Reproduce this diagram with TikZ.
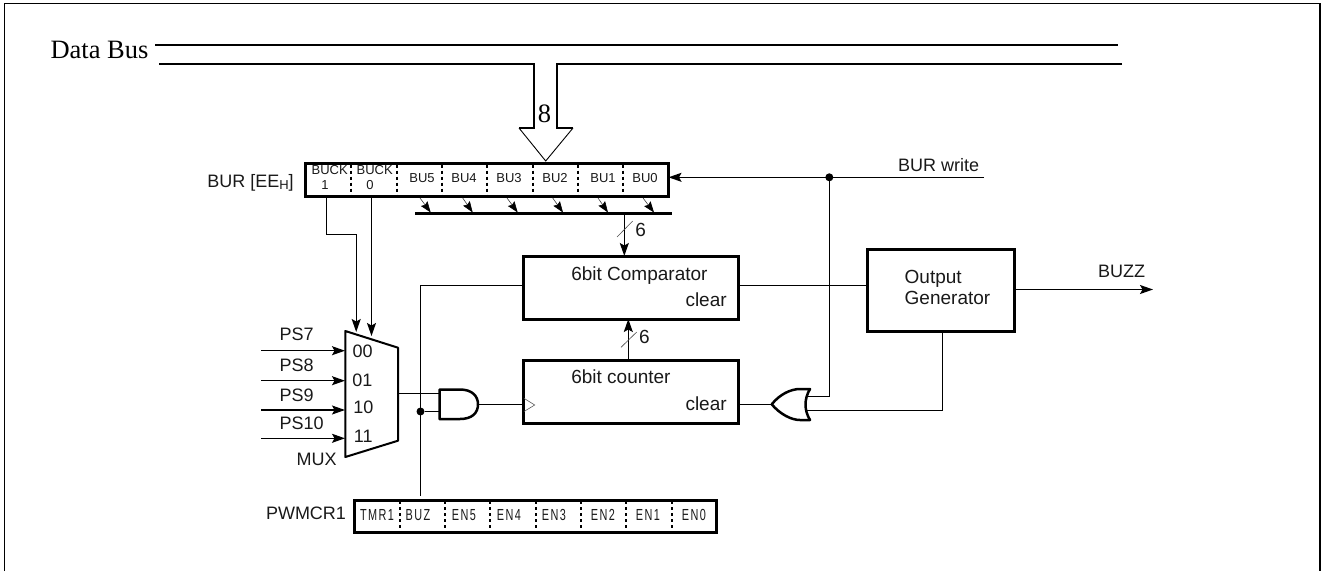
\documentclass[tikz,border=0pt]{standalone}
\usepackage{fontspec}
\setmainfont{Liberation Sans}
\newfontfamily\serifbus{Liberation Serif}
\newfontfamily\narrowf[FakeStretch=0.68,LetterSpace=9]{Liberation Sans}
\usetikzlibrary{arrows.meta,calc}
\tikzset{
  lbl/.style={inner sep=0pt,outer sep=0pt,text depth=0pt,text height=13pt,text=black!90,font=\fontsize{18}{20}\selectfont},
  big/.style={lbl,text height=13.6pt,font=\fontsize{19}{21}\selectfont},
  cell/.style={lbl,text height=9.4pt,font=\fontsize{13}{14}\selectfont},
  ncell/.style={lbl,text height=11.5pt,font=\narrowf\fontsize{16}{18}\selectfont},
  busl/.style={lbl,text height=17.5pt,text=black,font=\serifbus\fontsize{26.5}{28}\selectfont},
  box/.style={draw,line width=3pt,inner sep=0pt,outer sep=0pt,fill=none},
  wire/.style={line width=1.3pt},
  thick bus/.style={line width=2.2pt},
  arr/.style={line width=1.3pt,-{Stealth[length=13pt,width=9pt,inset=2.5pt]}},
  tap/.style={line width=0.6pt,black!75,-{Stealth[length=11pt,width=8pt,inset=1.5pt,black]}},
  slash/.style={line width=0.6pt,black!70},
  sep/.style={line width=2pt,dash pattern=on 3pt off 3pt},
  gate/.style={draw,line width=2.5pt,line join=round},
  dot/.style={circle,fill=black,inner sep=0pt,minimum size=8pt,outer sep=0pt},
}
\begin{document}
\begin{tikzpicture}[x=1pt,y=-1pt]
\useasboundingbox (0,0) rectangle (1321,571);
% frame
\coordinate (fbl) at (4.5,571);
\coordinate (ftl) at (4.5,3.5);
\coordinate (ftr) at (1320,3.5);
\coordinate (fbr) at (1320,571);
\draw[line width=1.4pt] (fbl) -- (ftl) -- (ftr) -- (fbr);

% data bus
\node[busl] (dbus) at (99.5,50) {Data Bus};
\coordinate (b1l) at (155,45);  \coordinate (b1r) at (1118,45);
\coordinate (b2l) at (159,64);  \coordinate (b2a) at (534,64);
\coordinate (b2b) at (557,64);  \coordinate (b2r) at (1122,64);
\coordinate (ah1) at (519,128); \coordinate (ah2) at (534,128);
\coordinate (ah3) at (557,128); \coordinate (ah4) at (573,128);
\coordinate (atip) at (545.7,161);
\draw[thick bus] (b1l) -- (b1r);
\draw[thick bus] (b2l) -- (b2a) -- (ah2) -- (ah1);
\draw[thick bus] (b2r) -- (b2b) -- (ah3) -- (ah4);
\draw[line width=0.9pt] (ah1) -- (atip) -- (ah4);
\node[busl] (eight) at (544.5,114) {8};

% BUR register
\node[box,minimum width=363pt,minimum height=33.5pt] (bur) at (487,179.75) {};
\node[lbl] (burl) at (250.5,181) {BUR [EE\raisebox{-2pt}{\fontsize{13}{14}\selectfont H}]};
\foreach \i/\xx in {a/351,b/397,c/442,d/487,e/532.7,f/577.7,g/623}{
  \coordinate (bs\i) at (\xx,164.5);
  \draw[sep] (bs\i) -- (\xx,196);
}
\node[cell] (c1a) at (329.7,170) {BUCK};
\node[cell] (c1b) at (325,185) {1};
\node[cell] (c0a) at (374.7,170) {BUCK};
\node[cell] (c0b) at (370,185) {0};
\node[cell] (bu5) at (422,177.7) {BU5};
\node[cell] (bu4) at (464,177.7) {BU4};
\node[cell] (bu3) at (509,177.7) {BU3};
\node[cell] (bu2) at (555,177.7) {BU2};
\node[cell] (bu1) at (603,177.7) {BU1};
\node[cell] (bu0) at (645,177.7) {BU0};

% internal bus and taps
\coordinate (ibl) at (415,213.3);
\coordinate (ibr) at (672,213.3);
\draw[line width=3pt] (ibl) -- (ibr);
\foreach \n/\sx/\tx in {5/420/430.7,4/462.7/472.7,3/507/517.7,2/552.7/563,1/598/608,0/643/654}{
  \coordinate (ts\n) at (\sx,198);
  \coordinate (tt\n) at (\tx,212.5);
  \draw[tap] (ts\n) -- (tt\n);
}

% comparator, counter, output generator
\node[box,minimum width=215.5pt,minimum height=63pt] (cmp) at (630.75,287.5) {};
\node[box,minimum width=215.5pt,minimum height=63pt] (cnt) at (630.75,391.5) {};
\node[box,minimum width=147.5pt,minimum height=82pt] (ogen) at (940.75,290) {};
\node[big,anchor=west] (cmpt) at (571.3,274) {6bit Comparator};
\node[big,anchor=east] (cmpc) at (726.7,300) {clear};
\node[big,anchor=west] (cntt) at (571.3,376.7) {6bit counter};
\node[big,anchor=east] (cntc) at (726.7,404) {clear};
\node[big,anchor=west] (og1) at (904.7,276.7) {Output};
\node[big,anchor=west] (og2) at (904.7,297.7) {Generator};

% clock triangle
\coordinate (ck1) at (524,398.3);
\coordinate (ck2) at (534.7,405);
\coordinate (ck3) at (524,411.5);
\draw[line width=0.6pt,black!65] (ck1) -- (ck2) -- (ck3);

% 6-bit links
\coordinate (cmpin) at (624.3,213.3);
\draw[arr] (cmpin) -- (cmpin |- cmp.north);
\coordinate (s1a) at (617,237); \coordinate (s1b) at (632.7,221);
\draw[slash] (s1a) -- (s1b);
\node[big] (six1) at (640.7,230) {6};
\coordinate (cntout) at (628.3,359);
\draw[arr] (cntout) -- (cntout |- cmp.south);
\coordinate (s2a) at (621,347.3); \coordinate (s2b) at (636.7,332);
\draw[slash] (s2a) -- (s2b);
\node[big] (six2) at (644.3,336.7) {6};

% MUX
\coordinate (mtl) at (345.3,331);
\coordinate (mtr) at (398,347.7);
\coordinate (mbr) at (398,440.7);
\coordinate (mbl) at (345.3,457);
\draw[gate,line width=2pt] (mtl) -- (mtr) -- (mbr) -- (mbl) -- cycle;
\node[lbl] (m00) at (362.7,351) {00};
\node[lbl] (m01) at (362.3,379.5) {01};
\node[lbl] (m10) at (363.3,407.3) {10};
\node[lbl] (m11) at (363.3,436) {11};
\node[lbl] (muxl) at (316.7,459.3) {MUX};
\node[lbl] (ps7) at (296.7,334.3) {PS7};
\node[lbl] (ps8) at (296.7,365.3) {PS8};
\node[lbl] (ps9) at (296.7,395.3) {PS9};
\node[lbl] (ps10) at (301.7,423.3) {PS10};
\foreach \n/\yy in {a/350.7,b/380.7,c/410,d/438.3}{
  \coordinate (pi\n) at (261,\yy);
  \coordinate (pt\n) at (345,\yy);
  \draw[arr] (pi\n) -- (pt\n);
}
% selects
\coordinate (sel1) at (326.3,234.3);
\coordinate (sel1b) at (356.2,234.3);
\coordinate (sel1t) at (356.2,332);
\draw[arr] (sel1 |- bur.south) -- (sel1) -- (sel1b) -- (sel1t);
\coordinate (sel0t) at (371.5,336);
\draw[arr] (sel0t |- bur.south) -- (sel0t);

% AND gate
\coordinate (and1) at (439.5,389.5);
\coordinate (and2) at (460,389.5);
\coordinate (and3) at (478,404.3);
\coordinate (and4) at (460,419);
\coordinate (and5) at (439.5,419);
\draw[gate] (and1) -- (and2) .. controls (472,389.5) and (478,396) .. (and3)
  .. controls (478,413) and (472,419) .. (and4) -- (and5) -- cycle;
\coordinate (ai1) at (439,393.3);
\coordinate (ai2) at (439,411.5);
\coordinate (mout) at (398,393.3);
\draw[wire] (mout) -- (ai1);
\draw[wire] (and3) -- (cnt.west |- and3);

% PWMCR1 register
\node[box,minimum width=362pt,minimum height=32pt] (pwm) at (535.5,516) {};
\node[lbl] (pwml) at (306,512.5) {PWMCR1};
\foreach \i/\xx in {a/400,b/445,c/490,d/536,e/581,f/626,g/672}{
  \coordinate (ps\i) at (\xx,501);
  \draw[sep] (ps\i) -- (\xx,531);
}
\node[ncell] (tmr) at (377,515) {TMR1};
\node[ncell] (buz) at (418,515) {BUZ};
\node[ncell] (en5) at (464,515) {EN5};
\node[ncell] (en4) at (509,515) {EN4};
\node[ncell] (en3) at (554,515) {EN3};
\node[ncell] (en2) at (603,515) {EN2};
\node[ncell] (en1) at (648,515) {EN1};
\node[ncell] (en0) at (694,515) {EN0};

% clear line with dot
\coordinate (clrc) at (420.5,285.3);
\coordinate (clrb) at (420.5,495.7);
\node[dot] (d1) at (420.5,411.5) {};
\draw[wire] (cmp.west |- clrc) -- (clrc) -- (clrb);
\draw[wire] (d1) -- (ai2);

% OR gate
\coordinate (ortip) at (771.7,404.3);
\coordinate (ortop) at (810,389);
\coordinate (orbot) at (810,420);
\draw[gate] (ortip) .. controls (780,394) and (791,389) .. (800,389) -- (ortop)
  .. controls (804,399) and (804,410) .. (orbot) -- (800,420)
  .. controls (791,420) and (780,414) .. (ortip) -- cycle;
\draw[wire] (ortip) -- (cnt.east |- ortip);

% BUR write
\coordinate (bwr) at (984,177.3);
\node[dot] (d2) at (829.3,177.3) {};
\draw[arr] (bwr) -- (bur.east |- bwr);
\node[lbl] (bwl) at (938.7,164.7) {BUR write};
\coordinate (orin1) at (829.3,396.7);
\coordinate (orp1) at (807,396.7);
\draw[wire] (d2.center) -- (orin1) -- (orp1);

% comparator to generator
\coordinate (cg) at (800,285.3);
\draw[wire] (cmp.east |- cg) -- (ogen.west |- cg);

% generator feedback
\coordinate (fb) at (942.7,410.3);
\coordinate (orp2) at (806,410.3);
\draw[wire] (fb |- ogen.south) -- (fb) -- (orp2);

% BUZZ
\coordinate (bz) at (1153,289.5);
\draw[arr] (ogen.east |- bz) -- (bz);
\node[lbl] (bzl) at (1121.7,271.3) {BUZZ};
\end{tikzpicture}
\end{document}
